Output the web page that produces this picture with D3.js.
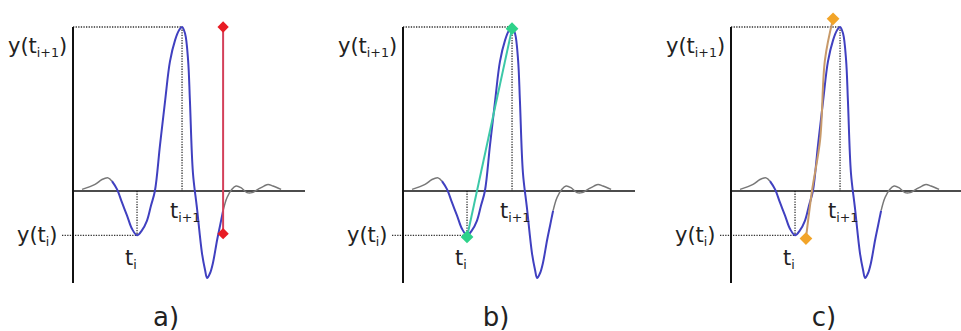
<!DOCTYPE html>
<html>
  <head>
    <meta charset="utf-8">
    <title>Peak detection sketch</title>
    <script src="https://d3js.org/d3.v7.min.js"></script>
    <style>
      body { margin: 0; background: #fff; }
      text { font-family: "DejaVu Sans", Verdana, sans-serif; fill: #222; }
    </style>
  </head>
  <body>
    <svg id="chart" width="961" height="331"></svg>
    <script>
      // waveform samples (time, amplitude), peak normalised to 1
      var waveT = [0.39, 0.95, 1.25, 1.51, 1.68, 1.90, 2.11, 2.33, 2.54, 2.76, 2.97, 3.19, 3.36, 3.53, 3.75, 3.97, 4.18, 4.40, 4.57, 4.70, 4.83, 4.96, 5.04, 5.17, 5.34, 5.56, 5.69, 5.78, 5.91, 6.03, 6.21, 6.34, 6.47, 6.64, 6.85, 7.03, 7.24, 7.50, 7.72, 7.97, 8.23, 8.41, 8.62, 8.97];
      var waveY = [0.01, 0.04, 0.07, 0.08, 0.06, 0.01, -0.07, -0.15, -0.23, -0.27, -0.24, -0.18, -0.09, 0, 0.28, 0.55, 0.79, 0.92, 0.98, 1.0, 0.96, 0.80, 0.55, 0.11, -0.10, -0.38, -0.48, -0.53, -0.50, -0.44, -0.30, -0.21, -0.12, -0.04, 0.01, 0.03, 0.02, -0.01, -0.01, 0.01, 0.03, 0.04, 0.03, 0.01];
      var blueRange = [1.68, 6.47];
      var tI = 2.76, yI = -0.27;
      var tI1 = 4.70, yI1 = 1.0;
      // panel a: vertical red marker
      var redT = [6.47, 6.47];
      var redY = [1.0, -0.26];
      // panel b: straight green chord
      var greenT = [2.76, 4.70];
      var greenY = [-0.28, 0.99];
      // panel c: orange fitted curve
      var orangeT = [3.23, 3.49, 3.84, 4.05, 4.40];
      var orangeY = [-0.29, 0, 0.31, 0.80, 1.05];
      var panelNames = ["a)", "b)", "c)"];
      var panelShift = [0, 330, 658];

      var svg = d3.select("#chart");
      var x = d3.scaleLinear().domain([0, 10]).range([73, 305]);
      var y = d3.scaleLinear().domain([-0.561, 1]).range([283, 27]);
      var line = d3.line()
        .x(function(d) { return x(d[0]); })
        .y(function(d) { return y(d[1]); })
        .curve(d3.curveCatmullRom.alpha(0.5));
      var straight = d3.line()
        .x(function(d) { return x(d[0]); })
        .y(function(d) { return y(d[1]); });
      var wave = waveT.map(function(t, i) { return [t, waveY[i]]; });
      var grayA = wave.filter(function(d) { return d[0] <= blueRange[0]; });
      var blue = wave.filter(function(d) { return d[0] >= blueRange[0] && d[0] <= blueRange[1]; });
      var grayB = wave.filter(function(d) { return d[0] >= blueRange[1]; });
      var zip = function(a, b) { return a.map(function(v, i) { return [v, b[i]]; }); };

      function diamond(g, pts, colour, size) {
        g.selectAll(null)
          .data(pts)
          .enter().append("rect")
            .attr("x", -size / 2)
            .attr("y", -size / 2)
            .attr("width", size)
            .attr("height", size)
            .attr("transform", function(d) { return "translate(" + x(d[0]) + "," + y(d[1]) + ") rotate(45)"; })
            .style("fill", colour);
      }

      function label(g, px, py, main, sub, close, size) {
        var t = g.append("text")
          .attr("x", px)
          .attr("y", py)
          .style("font-size", size + "px");
        t.append("tspan").text(main);
        t.append("tspan")
          .attr("dy", 4)
          .style("font-size", (size * 0.6) + "px")
          .text(sub);
        if (close) {
          t.append("tspan")
            .attr("dy", -4)
            .text(close);
        }
      }

      panelShift.forEach(function(shift, p) {
        var g = svg.append("g")
          .attr("transform", "translate(" + shift + ",0)");
        // dotted guides
        var dotted = [
          [[x(0), y(yI1)], [x(tI1), y(yI1)]],
          [[x(tI1), y(yI1)], [x(tI1), y(0)]],
          [[x(0) - 11, y(yI)], [x(tI), y(yI)]],
          [[x(tI), y(0)], [x(tI), y(yI)]]
        ];
        g.selectAll(".dot")
          .data(dotted)
          .enter().append("path")
            .attr("d", function(d) { return d3.line()(d); })
            .style("stroke", "#333")
            .style("stroke-width", 1.3)
            .style("stroke-dasharray", "1.3,1.3")
            .style("fill", "none");
        // axes
        g.append("line")
          .attr("x1", x(0)).attr("x2", x(0))
          .attr("y1", y.range()[1]).attr("y2", y.range()[0])
          .style("stroke", "#111").style("stroke-width", 2);
        g.append("line")
          .attr("x1", x(0)).attr("x2", x(10))
          .attr("y1", y(0)).attr("y2", y(0))
          .style("stroke", "#111").style("stroke-width", 1.6);
        // waveform
        [grayA, grayB].forEach(function(seg) {
          g.append("path")
            .attr("d", line(seg))
            .style("fill", "none").style("stroke", "#777").style("stroke-width", 1.5);
        });
        g.append("path")
          .attr("d", line(blue))
          .style("fill", "none").style("stroke", "#4040c0").style("stroke-width", 2);
        // markers
        if (p == 0) {
          var red = zip(redT, redY);
          g.append("path").attr("d", straight(red))
            .style("stroke", "#d4405a").style("stroke-width", 2).style("fill", "none");
          diamond(g, red, "#e81c24", 8);
        } else if (p == 1) {
          var green = zip(greenT, greenY);
          g.append("path").attr("d", straight(green))
            .style("stroke", "#3cc8a8").style("stroke-width", 2).style("fill", "none");
          diamond(g, green, "#2ed28a", 9);
        } else {
          var orange = zip(orangeT, orangeY);
          g.append("path").attr("d", line(orange))
            .style("stroke", "#c89a6a").style("stroke-width", 2).style("fill", "none");
          diamond(g, [orange[0], orange[orange.length - 1]], "#f2a428", 9);
        }
        // labels
        label(g, 8, 53, "y(t", "i+1", ")", 21);
        label(g, 17, 242, "y(t", "i", ")", 21);
        label(g, x(tI) - 12, 265, "t", "i", null, 21);
        label(g, x(tI1) - 12, 218, "t", "i+1", null, 21);
        g.append("text")
          .attr("x", 166)
          .attr("y", 326)
          .attr("text-anchor", "middle")
          .style("font-size", "26px")
          .text(panelNames[p]);
      });
    </script>
  </body>
</html>
